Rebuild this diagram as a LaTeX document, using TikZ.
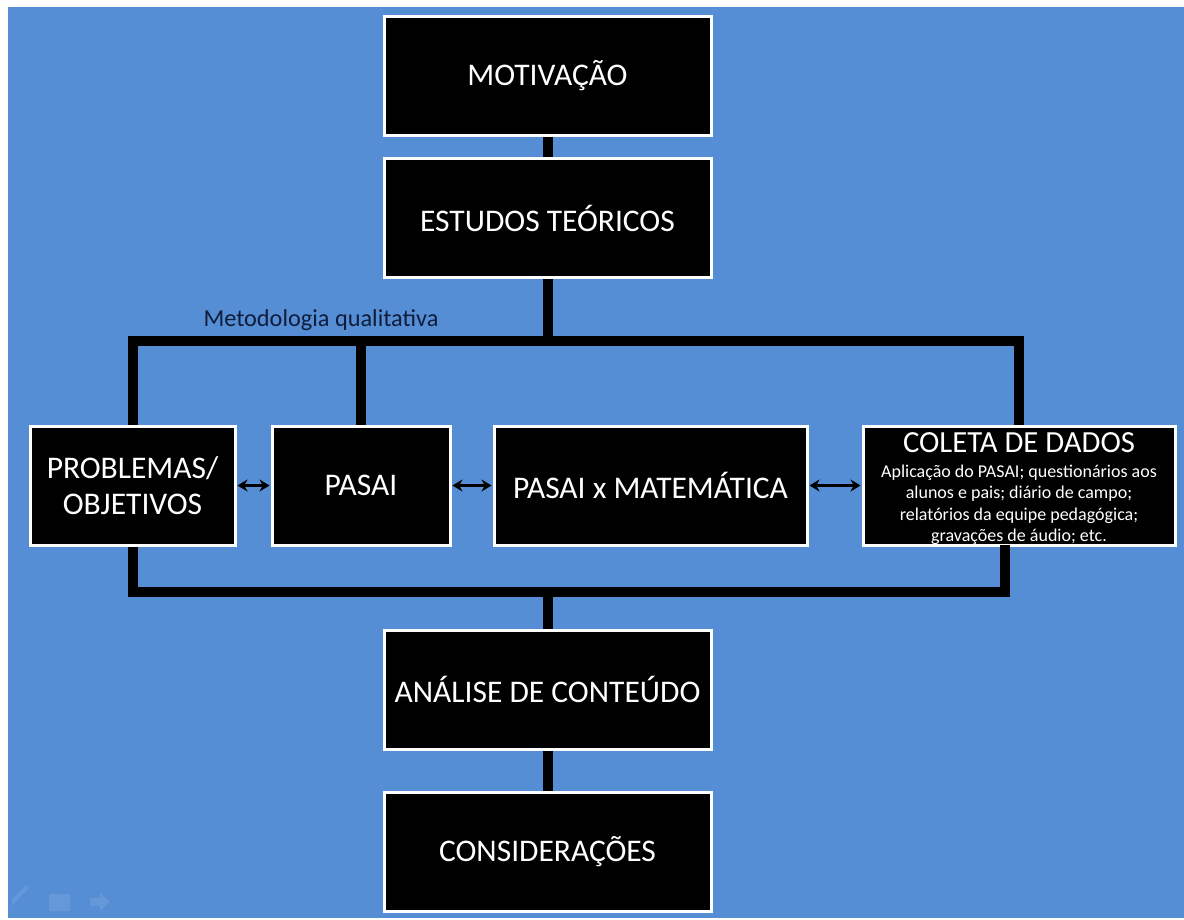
\documentclass[tikz,border=0pt]{standalone}
\usepackage{fontspec}
\setmainfont{Carlito}
\usetikzlibrary{arrows.meta,calc}
\definecolor{slideblue}{HTML}{558ED5}
\definecolor{labelnavy}{HTML}{0F1D3A}
\tikzset{
  box/.style={draw=white, fill=black, line width=3pt, text=white, minimum height=119pt, inner sep=0pt, align=center, font=\fontsize{31.5}{36}\selectfont},
  bus/.style={draw=black, line width=10pt, line join=miter},
  dbl/.style={draw=black, line width=3pt, {Stealth[length=10pt,width=12pt]}-{Stealth[length=10pt,width=12pt]}, shorten <=1pt, shorten >=1pt},
  icon/.style={fill=white, opacity=0.09, draw=none}
}
\begin{document}
\begin{tikzpicture}[x=1pt,y=-1pt]
\useasboundingbox (0,0) rectangle (1184,920);
\fill[white] (0,0) rectangle (1184,920);
\fill[slideblue] (8,7) rectangle (1184,918);
% nodes
\node[box, minimum width=327pt] (mot) at (547.5,76) {MOTIVAÇÃO};
\node[box, minimum width=327pt] (est) at (547.5,218) {ESTUDOS TEÓRICOS};
\node[box, minimum width=205pt] (prob) at (132.5,485.5) {PROBLEMAS/\\OBJETIVOS};
\node[box, minimum width=178pt] (pasai) at (361,485.5) {PASAI};
\node[box, minimum width=313pt] (pm) at (650.5,485.5) {PASAI x MATEMÁTICA};
\node[box, minimum width=312pt] (col) at (1019,485.5) {};
\node[text=white, inner sep=0pt] (colt) at (1019,489) {\parbox{310pt}{\centering{\fontsize{30.7}{30}\selectfont COLETA DE DADOS\par}\vspace{3pt}\fontsize{18}{21.5}\selectfont Aplicação do PASAI; questionários aos\\ alunos e pais; diário de campo;\\ relatórios da equipe pedagógica;\\ gravações de áudio; etc.\par}};
\node[box, minimum width=327pt] (ana) at (547.5,689.5) {ANÁLISE DE CONTEÚDO};
\node[box, minimum width=327pt] (cons) at (547.5,852) {CONSIDERAÇÕES};
\node[text=labelnavy, font=\fontsize{24.3}{26}\selectfont, inner sep=0pt] (met) at (321,320) {Metodologia qualitativa};
% connectors
\coordinate (tb) at (547.5,341);
\coordinate (bb) at (547.5,592);
\coordinate (colb) at (1005,545);
\draw[bus] (mot.south) -- (est.north);
\draw[bus] (est.south) -- (tb);
\draw[bus] (prob.north) |- (tb) -| (col.north);
\draw[bus] (pasai.north) -- (pasai.north |- tb);
\draw[bus] (prob.south) |- (bb) -| (colb);
\draw[bus] (bb) -- (ana.north);
\draw[bus] (ana.south) -- (cons.north);
\draw[dbl] (prob.east) -- (pasai.west);
\draw[dbl] (pasai.east) -- (pm.west);
\draw[dbl] (pm.east) -- (col.west);
% faint slideshow controls
\fill[icon] (11,906) -- (13,898) -- (26,885) -- (29,888) -- (16,901) -- cycle;
\fill[icon, rounded corners=1pt] (49,894) rectangle (70,911);
\fill[icon] (90,898) -- (100,898) -- (100,893) -- (110,902) -- (100,911) -- (100,906) -- (90,906) -- cycle;
\end{tikzpicture}
\end{document}
